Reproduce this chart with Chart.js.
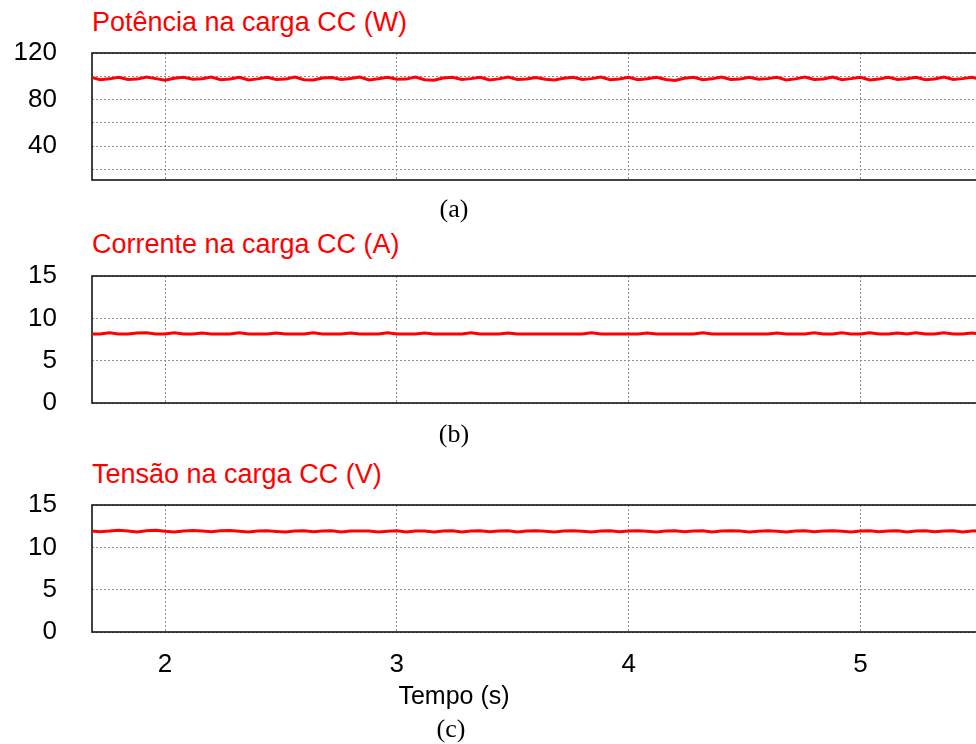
<!DOCTYPE html>
<html><head><meta charset="utf-8">
<script src="https://cdn.jsdelivr.net/npm/chart.js@4/dist/chart.umd.min.js"></script>
<style>
html,body{margin:0;padding:0;overflow:hidden;background:#fff;width:976px;height:744px;}
.pane{position:absolute;left:0;}
canvas{display:block;}
.ttl{position:absolute;left:92px;font-family:"Liberation Sans",Arial,sans-serif;font-size:27px;color:#ff0000;white-space:nowrap;line-height:1;}
.lab{position:absolute;font-family:"Liberation Serif","Times New Roman",serif;font-size:26px;color:#000;transform:translateX(-50%);white-space:nowrap;line-height:1;}
.xt{position:absolute;font-family:"Liberation Sans",Arial,sans-serif;font-size:25px;color:#000;transform:translateX(-50%);white-space:nowrap;line-height:1;}
</style>
</head><body>
<div class="ttl" style="top:9px">Potência na carga CC (W)</div>
<div class="ttl" style="top:231px">Corrente na carga CC (A)</div>
<div class="ttl" style="top:461px">Tensão na carga CC (V)</div>
<div class="pane" style="top:33px"><canvas id="cA" width="1000" height="167"></canvas></div>
<div class="pane" style="top:256px"><canvas id="cB" width="1000" height="167"></canvas></div>
<div class="pane" style="top:485px"><canvas id="cC" width="1000" height="207"></canvas></div>
<div class="lab" style="left:454px;top:196px">(a)</div>
<div class="lab" style="left:454px;top:421px">(b)</div>
<div class="xt" style="left:454px;top:683px">Tempo (s)</div>
<div class="lab" style="left:451px;top:716px">(c)</div>
<script>
// Time samples (s)
const time = [
 1.68,1.72,1.76,1.80,1.84,1.88,1.92,1.96,2.00,2.04,
 2.08,2.12,2.16,2.20,2.24,2.28,2.32,2.36,2.40,2.44,
 2.48,2.52,2.56,2.60,2.64,2.68,2.72,2.76,2.80,2.84,
 2.88,2.92,2.96,3.00,3.04,3.08,3.12,3.16,3.20,3.24,
 3.28,3.32,3.36,3.40,3.44,3.48,3.52,3.56,3.60,3.64,
 3.68,3.72,3.76,3.80,3.84,3.88,3.92,3.96,4.00,4.04,
 4.08,4.12,4.16,4.20,4.24,4.28,4.32,4.36,4.40,4.44,
 4.48,4.52,4.56,4.60,4.64,4.68,4.72,4.76,4.80,4.84,
 4.88,4.92,4.96,5.00,5.04,5.08,5.12,5.16,5.20,5.24,
 5.28,5.32,5.36,5.40,5.44,5.48,5.52
];
// Potência na carga CC (W)
const power = [
 99.2,97.0,97.8,99.1,97.2,97.6,99.3,98.0,96.6,98.4,
 99.2,97.4,97.9,99.3,97.0,97.7,99.1,96.9,97.8,99.2,
 97.3,97.6,99.4,97.1,96.8,98.6,99.0,97.2,98.1,99.3,
 96.9,97.9,99.2,97.4,97.6,99.3,97.0,96.7,98.5,99.1,
 97.3,98.0,99.2,96.9,97.8,99.3,97.2,97.6,99.0,97.5,
 96.8,98.4,99.2,97.3,98.0,99.4,97.1,97.7,99.2,97.0,
 97.9,99.1,97.3,96.4,98.3,99.2,97.0,97.8,99.3,97.2,
 97.6,99.1,97.4,98.0,99.2,96.9,97.8,99.3,97.3,97.7,
 99.4,97.0,98.0,99.2,96.8,97.6,99.1,97.3,97.9,99.2,
 97.1,97.7,99.3,97.2,98.0,99.1,97.5
];
// Corrente na carga CC (A)
const current = [
 8.15,8.15,8.30,8.15,8.15,8.28,8.30,8.15,8.15,8.30,
 8.15,8.15,8.28,8.15,8.15,8.15,8.30,8.15,8.15,8.15,
 8.28,8.15,8.15,8.15,8.30,8.15,8.15,8.15,8.28,8.15,
 8.15,8.15,8.30,8.15,8.15,8.15,8.28,8.15,8.15,8.15,
 8.15,8.30,8.15,8.15,8.15,8.28,8.15,8.15,8.15,8.15,
 8.15,8.15,8.15,8.15,8.30,8.15,8.15,8.15,8.15,8.15,
 8.28,8.15,8.15,8.15,8.15,8.15,8.30,8.15,8.15,8.15,
 8.15,8.15,8.15,8.15,8.28,8.15,8.15,8.15,8.30,8.15,
 8.15,8.30,8.15,8.15,8.30,8.15,8.15,8.28,8.15,8.30,
 8.15,8.15,8.30,8.15,8.15,8.28,8.15
];
// Tensão na carga CC (V)
const voltage = [
 11.95,11.85,11.92,12.02,11.92,11.82,11.95,12.02,11.90,11.82,
 11.92,12.00,11.92,11.85,11.95,12.00,11.90,11.80,11.92,11.95,
 11.88,11.80,11.92,11.95,11.85,11.92,11.95,11.80,11.92,11.94,
 11.92,11.82,11.90,11.95,11.82,11.92,11.94,11.80,11.92,11.95,
 11.82,11.92,11.95,11.84,11.92,11.95,11.80,11.92,11.95,11.90,
 11.82,11.92,11.96,11.90,11.82,11.92,11.95,11.84,11.92,11.96,
 11.90,11.82,11.92,11.95,11.85,11.92,11.96,11.82,11.92,11.95,
 11.92,11.82,11.90,11.96,11.90,11.80,11.92,11.95,11.84,11.92,
 11.95,11.90,11.82,11.92,11.96,11.84,11.92,11.95,11.82,11.92,
 11.95,11.85,11.92,11.96,11.82,11.92,11.95
];
const xTicks = [2, 3, 4, 5];
const yTicksA = [20, 40, 60, 80, 100, 120];
const yLabelsA = [40, 80, 120];
const yTicksBC = [0, 5, 10, 15];

const frame = {
  id: 'frame',
  beforeDatasetsDraw(chart) {
    const a = chart.chartArea, ctx = chart.ctx;
    ctx.save();
    ctx.strokeStyle = '#151515';
    ctx.lineWidth = 1.6;
    ctx.strokeRect(a.left, a.top, a.right - a.left, a.bottom - a.top);
    ctx.restore();
  }
};

const tickFont = {family: '"Liberation Sans", Arial, sans-serif', size: 26};

function makeChart(id, values, yMin, yMax, yTicks, yLabels, showX) {
  return new Chart(document.getElementById(id), {
    type: 'line',
    data: {
      datasets: [{
        data: time.map((t, i) => ({x: t, y: values[i]})),
        borderColor: '#ff0000',
        borderWidth: 3,
        pointRadius: 0,
        tension: 0,
        fill: false
      }]
    },
    options: {
      responsive: false,
      animation: false,
      devicePixelRatio: 1,
      layout: {padding: {left: 0, right: 19, top: 20, bottom: showX ? 0 : 20}},
      plugins: {legend: {display: false}, tooltip: {enabled: false}},
      scales: {
        x: {
          type: 'linear', min: 1.685, max: 5.52,
          afterBuildTicks: s => { s.ticks = xTicks.map(v => ({value: v})); },
          afterFit: s => { s.height = showX ? 60 : 0; s.paddingLeft = 0; s.paddingRight = 0; },
          grid: {color: '#8f8f8f', lineWidth: 1, drawTicks: false},
          border: {display: false, dash: [2, 2]},
          ticks: {display: showX, color: '#000', font: tickFont, padding: 17, maxRotation: 0,
                  autoSkip: false, callback: v => String(v)}
        },
        y: {
          type: 'linear', min: yMin, max: yMax,
          afterBuildTicks: s => { s.ticks = yTicks.map(v => ({value: v})); },
          afterFit: s => { s.width = 92; s.paddingTop = 0; s.paddingBottom = 0; },
          grid: {color: '#8f8f8f', lineWidth: 1, drawTicks: false},
          border: {display: false, dash: [2, 2]},
          ticks: {color: '#000', font: tickFont, padding: 35, autoSkip: false,
                  callback: v => yLabels.includes(v) ? String(v) : ''}
        }
      }
    },
    plugins: [frame]
  });
}

makeChart('cA', power, 11, 120, yTicksA, yLabelsA, false);
makeChart('cB', current, 0, 15, yTicksBC, yTicksBC, false);
makeChart('cC', voltage, 0, 15, yTicksBC, yTicksBC, true);
</script>
</body></html>
